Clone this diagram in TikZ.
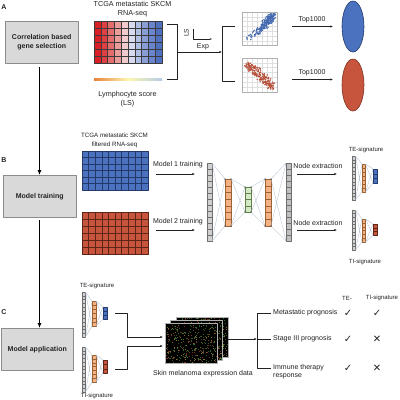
\documentclass[tikz,border=0pt]{standalone}
\usepackage{fontspec}
\setmainfont{Liberation Sans}
\newfontfamily\symfont{DejaVu Sans}
\usetikzlibrary{arrows.meta,shapes.geometric}
\definecolor{ink}{HTML}{222222}
\definecolor{boxfill}{HTML}{D9D9D9}
\definecolor{boxdraw}{HTML}{8C8C8C}
\definecolor{bluec}{HTML}{4A72BF}
\definecolor{bluedk}{HTML}{22396A}
\definecolor{redc}{HTML}{C7553D}
\definecolor{reddk}{HTML}{5E2416}
\definecolor{orangec}{HTML}{F4B183}
\definecolor{orangedk}{HTML}{9A6233}
\definecolor{greenc}{HTML}{D6E9C6}
\definecolor{greendk}{HTML}{60804A}
\definecolor{grayc}{HTML}{D0D0D0}
\definecolor{graydk}{HTML}{6E6E6E}
\definecolor{fanc}{HTML}{AEBBCF}
\definecolor{heatline}{HTML}{3A3A3A}
\definecolor{scgrid}{HTML}{E0E0E0}
\definecolor{scframe}{HTML}{B0B0B0}
\definecolor{h1}{HTML}{DA2025}
\definecolor{h2}{HTML}{DE4044}
\definecolor{h3}{HTML}{E36C6C}
\definecolor{h4}{HTML}{EA9C9B}
\definecolor{h5}{HTML}{F1CBCB}
\definecolor{h6}{HTML}{D8DBEE}
\definecolor{h7}{HTML}{B1BEE3}
\definecolor{h8}{HTML}{8A9ED6}
\definecolor{h9}{HTML}{6A85CB}
\definecolor{h10}{HTML}{4F70C0}
\definecolor{cbA}{HTML}{A50F15}
\definecolor{cbB}{HTML}{E8833A}
\definecolor{cbC}{HTML}{FDF5B0}
\definecolor{cbD}{HTML}{B5CDE6}
\definecolor{cbE}{HTML}{4A6FB5}
\definecolor{mel1}{HTML}{2E6A2E}
\definecolor{mel2}{HTML}{7A3020}
\definecolor{mel3}{HTML}{7D7028}
\definecolor{mel4}{HTML}{3D5222}
\pgfdeclarehorizontalshading{lscale}{100bp}{color(0bp)=(cbA); color(25bp)=(cbB); color(50bp)=(cbC); color(75bp)=(cbD); color(100bp)=(cbE)}
\newcommand{\cellcol}[8]{%
  \node[draw=#8, fill=#7, line width=0.35pt, inner sep=0pt, outer sep=0pt,
        minimum width=#4pt, minimum height=#5pt, anchor=north west] (#1) at (#2,#3) {};
  \pgfmathtruncatemacro\cellm{#6-1}
  \foreach \k in {1,...,\cellm} \draw[#8, line width=0.3pt] (#2,{#3+\k*#5/#6}) -- ({#2+#4},{#3+\k*#5/#6});
}
\newcommand{\fanlink}[2]{\draw[fan] (#1.north east) -- (#2.north west) (#1.north east) -- (#2.south west) (#1.south east) -- (#2.north west) (#1.south east) -- (#2.south west);}
\begin{document}
\begin{tikzpicture}[x=1pt,y=-1pt, line join=round,
  lab/.style={font=\fontsize{7}{8}\selectfont, text=ink, inner sep=0pt, align=center},
  smalllab/.style={font=\fontsize{6}{7}\selectfont, text=ink, inner sep=0pt, align=center},
  boxlab/.style={draw=boxdraw, fill=boxfill, line width=0.5pt, font=\fontsize{7}{8.5}\selectfont\bfseries, text=ink, align=center, inner sep=0pt, anchor=north west},
  letter/.style={font=\fontsize{7}{8}\selectfont\bfseries, text=ink, inner sep=0pt},
  arr/.style={draw=ink, line width=0.55pt, -{Latex[length=2.6pt,width=2.2pt]}},
  bigarr/.style={draw=black, line width=0.8pt, -{Latex[length=5pt,width=4pt]}},
  brk/.style={draw=ink, line width=0.55pt},
  fan/.style={draw=fanc, line width=0.3pt},
  chk/.style={font=\symfont\fontsize{10}{10}\selectfont, text=ink, inner sep=0pt},
]
\useasboundingbox (0,0) rectangle (400,400);
\fill[white] (0,0) rectangle (400,400);

% ---------------- Panel A ----------------
\node[letter] (lA) at (4,7) {A};
\node[boxlab, minimum width=73pt, minimum height=42pt] (boxA) at (5,21) {Correlation based\\gene selection};
\node[lab, font=\fontsize{7.2}{9}\selectfont] (tA) at (132.5,9.5) {TCGA metastatic SKCM\\RNA-seq};
\foreach \c [count=\i from 0] in {h1,h2,h3,h4,h5,h6,h7,h8,h9,h10}
  \fill[\c] ({94+\i*6.8},21) rectangle ({94+(\i+1)*6.8},63);
\foreach \i in {1,...,9} \draw[heatline, line width=0.4pt] ({94+\i*6.8},21) -- ({94+\i*6.8},63);
\foreach \j in {1,...,5} \draw[heatline, line width=0.4pt] (94,{21+\j*7}) -- (162,{21+\j*7});
\node[draw=heatline, line width=0.4pt, inner sep=0pt, outer sep=0pt, minimum width=68pt, minimum height=42pt, anchor=north west] (heatA) at (94,21) {};
\shade[shading=lscale] (94,78) rectangle (162,80.5);
\node[lab, font=\fontsize{7.2}{9}\selectfont] (lsA) at (127.5,99.5) {Lymphocyte score\\(LS)};

% bracket 1 and arrow
\coordinate (b1t) at (167,24);
\coordinate (b1b) at (167,79.5);
\coordinate (b1m) at (177,52);
\coordinate (b2m) at (222,52);
\draw[brk] (b1t) -- (177,24) -- (177,79.5) -- (b1b);
\draw[arr] (b1m) -- (b2m);
\draw[brk] (235,26) -- (222,26) -- (222,81) -- (235,81);
\node[font=\fontsize{6.5}{7}\selectfont, text=ink, inner sep=0pt, rotate=90] (lsax) at (186.5,33) {LS};
\coordinate (axo) at (193,39);
\draw[brk, line width=0.45pt, -{Latex[length=1.8pt,width=1.6pt]}] (193,28.5) -- (axo) -- (212,39);
\node[lab] (expl) at (203,46.5) {Exp};

% scatter plots
\foreach \yy in {12,58} {
  \foreach \g in {1,...,6} \draw[scgrid, line width=0.3pt] ({242+\g*5},\yy) -- ({242+\g*5},{\yy+33.5});
  \foreach \g in {1,...,6} \draw[scgrid, line width=0.3pt] (242,{\yy+\g*4.8}) -- (277,{\yy+\g*4.8});
}
\node[draw=scframe, line width=0.5pt, inner sep=0pt, minimum width=35pt, minimum height=33pt, anchor=north west] (scB) at (242,12) {};
\node[draw=scframe, line width=0.5pt, inner sep=0pt, minimum width=35pt, minimum height=34pt, anchor=north west] (scR) at (242,58) {};
\pgfmathsetseed{3}
\foreach \i in {1,...,220}{
  \pgfmathsetmacro\sv{sqrt(rnd)}
  \pgfmathsetmacro\na{rand}
  \pgfmathsetmacro\nb{rand}
  \pgfmathsetmacro\spx{max(244,min(275.5,245+29*\sv+2.5*\na))}
  \pgfmathsetmacro\spy{max(14,min(43,41-20*\sv-6*\sv*\sv+(2+3*\sv)*\nb))}
  \fill[bluec!92!black] (\spx,\spy) circle[radius=0.8pt];
}
\foreach \i in {1,...,200}{
  \pgfmathsetmacro\su{0.9*rand}
  \pgfmathsetmacro\na{rand}
  \pgfmathsetmacro\nb{rand}
  \pgfmathsetmacro\spx{max(244,min(275.5,259.5+15*\su+3*\na))}
  \pgfmathsetmacro\spy{max(60,min(90,75+13*\su+4.5*\nb))}
  \fill[redc!92!black] (\spx,\spy) circle[radius=0.8pt];
}
% Top1000 arrows and ellipses
\node[ellipse, draw=bluedk, fill=bluec, line width=0.6pt, inner sep=0pt, minimum width=22pt, minimum height=51pt] (ellB) at (353,26.5) {};
\node[ellipse, draw=reddk!70!redc, fill=redc, line width=0.6pt, inner sep=0pt, minimum width=22pt, minimum height=52pt] (ellR) at (353,85) {};
\coordinate (t1s) at (292,26.5);
\coordinate (t1e) at (333,26.5);
\coordinate (t2s) at (292,79.5);
\coordinate (t2e) at (333,79.5);
\draw[arr] (t1s) -- (t1e);
\draw[arr] (t2s) -- (t2e);
\node[lab] (top1) at (312,19.5) {Top1000};
\node[lab] (top2) at (312,72.5) {Top1000};

% vertical arrows between boxes
\node[boxlab, minimum width=73pt, minimum height=42pt] (boxB) at (3,175) {Model training};
\node[boxlab, minimum width=72pt, minimum height=42pt] (boxC) at (1,328) {Model application};
\coordinate (vA) at (39.5,67);
\coordinate (vB) at (39.5,220);
\draw[bigarr] (vA) -- (vA |- boxB.north);
\draw[bigarr] (vB) -- (vB |- boxC.north);

% ---------------- Panel B ----------------
\node[letter] (lB) at (4,160) {B};
\node[lab, font=\fontsize{6.2}{8.5}\selectfont] (tB) at (114.5,140.5) {TCGA metastatic SKCM\\filtered RNA-seq};
\fill[bluec] (82,151) rectangle (148,190);
\foreach \i in {1,...,9} \draw[bluedk, line width=0.4pt] ({82+\i*6.6},151) -- ({82+\i*6.6},190);
\foreach \j in {1,...,5} \draw[bluedk, line width=0.4pt] (82,{151+\j*6.5}) -- (148,{151+\j*6.5});
\node[draw=bluedk, line width=0.4pt, inner sep=0pt, minimum width=66pt, minimum height=39pt, anchor=north west] (gridB) at (82,151) {};
\fill[redc] (82,212) rectangle (148,254);
\foreach \i in {1,...,9} \draw[reddk, line width=0.4pt] ({82+\i*6.6},212) -- ({82+\i*6.6},254);
\foreach \j in {1,...,5} \draw[reddk, line width=0.4pt] (82,{212+\j*7}) -- (148,{212+\j*7});
\node[draw=reddk, line width=0.4pt, inner sep=0pt, minimum width=66pt, minimum height=42pt, anchor=north west] (gridR) at (82,212) {};

\node[lab] (m1) at (178,164.5) {Model 1 training};
\node[lab] (m2) at (178,221.5) {Model 2 training};
\coordinate (m1s) at (156,174);
\coordinate (m1e) at (195,174);
\coordinate (m2s) at (156,230);
\coordinate (m2e) at (195,230);
\draw[arr] (m1s) -- (m1e);
\draw[arr] (m2s) -- (m2e);

% autoencoder
\cellcol{nin}{207}{163}{5}{78}{13}{grayc}{graydk}
\cellcol{no1}{225}{179}{6}{47}{7}{orangec}{orangedk}
\cellcol{ngr}{245}{187}{6}{25}{4}{greenc}{greendk}
\cellcol{no2}{265}{179}{6}{47}{7}{orangec}{orangedk}
\cellcol{nout}{286}{163}{5}{78}{13}{grayc!80!gray}{graydk}
\fanlink{nin}{no1}
\fanlink{no1}{ngr}
\fanlink{ngr}{no2}
\fanlink{no2}{nout}
\foreach \n in {no1,ngr,no2}
  \foreach \a in {north west,north east,south west,south east}
    \fill[ink] (\n.\a) circle[radius=0.55pt];

\node[lab] (ne1) at (318,166) {Node extraction};
\node[lab] (ne2) at (318,222.5) {Node extraction};
\coordinate (n1s) at (297,174);
\coordinate (n1e) at (337,174);
\coordinate (n2s) at (297,230);
\coordinate (n2e) at (337,230);
\draw[arr] (n1s) -- (n1e);
\draw[arr] (n2s) -- (n2e);

\node[smalllab] (teB) at (366,150) {TE-signature};
\cellcol{s1g}{352}{156}{3.5}{44}{12}{grayc}{graydk}
\cellcol{s1o}{362}{164}{3.5}{28}{7}{orangec}{orangedk}
\cellcol{s1b}{373}{169}{4}{14}{3}{bluec}{bluedk}
\fanlink{s1g}{s1o}
\fanlink{s1o}{s1b}
\cellcol{s2g}{352}{210}{3.5}{40}{11}{grayc}{graydk}
\cellcol{s2o}{362}{219}{3.5}{23}{6}{orangec}{orangedk}
\cellcol{s2r}{373}{224}{4}{11}{3}{redc}{reddk}
\fanlink{s2g}{s2o}
\fanlink{s2o}{s2r}
\node[smalllab] (tiB) at (365,262) {TI-signature};

% ---------------- Panel C ----------------
\node[letter] (lC) at (4,312) {C};
\node[smalllab] (teC) at (97,286) {TE-signature};
\cellcol{c1g}{82}{292}{3.5}{45}{12}{grayc}{graydk}
\cellcol{c1o}{92}{301}{4}{25}{6}{orangec}{orangedk}
\cellcol{c1b}{103}{307}{4}{12}{3}{bluec}{bluedk}
\fanlink{c1g}{c1o}
\fanlink{c1o}{c1b}
\cellcol{c2g}{82}{347}{3.5}{45}{12}{grayc}{graydk}
\cellcol{c2o}{92}{355}{4}{27}{7}{orangec}{orangedk}
\cellcol{c2r}{103}{360}{4}{13}{3}{redc}{reddk}
\fanlink{c2g}{c2o}
\fanlink{c2o}{c2r}
\node[smalllab] (tiC) at (97,396) {TI-signature};

% melanoma expression stack
\pgfmathsetseed{11}
\foreach \mx/\my in {176/317, 170.5/320, 165/323.5}{
  \fill[black] (\mx,\my) rectangle ++(52,40);
  \draw[gray!60, line width=0.3pt] (\mx,\my) rectangle ++(52,40);
  \foreach \i in {1,...,330}{
    \pgfmathsetmacro\dx{\mx+1+50*rnd}
    \pgfmathsetmacro\dy{\my+1+38*rnd}
    \pgfmathrandominteger{\dc}{1}{4}
    \fill[mel\dc] (\dx,\dy) rectangle ++(0.7,0.7);
  }
}
\node[inner sep=0pt, outer sep=0pt, minimum width=52pt, minimum height=40pt, anchor=north west] (melF) at (165,323.5) {};
\node[inner sep=0pt, outer sep=0pt, minimum width=52pt, minimum height=40pt, anchor=north west] (melK) at (176,317) {};
\node[lab] (melT) at (203,373.5) {Skin melanoma expression data};

\coordinate (e1s) at (115,313);
\coordinate (e1e) at (163,337);
\coordinate (e2s) at (115,369);
\coordinate (e2e) at (163,346);
\draw[arr] (e1s) -- (127,313) -- (127,337) -- (e1e);
\draw[arr] (e2s) -- (127,369) -- (127,346) -- (e2e);

\coordinate (r0) at (228,339);
\coordinate (r1) at (257,339);
\draw[brk] (271,313) -- (257,313) -- (257,368) -- (271,368);
\draw[brk] (r1) -- (271,339);
\draw[arr] (r0) -- (r1);

\node[lab, anchor=west] (o1) at (273,313) {Metastatic prognosis};
\node[lab, anchor=west] (o2) at (273,339) {Stage III prognosis};
\node[lab, anchor=west, align=left] (o3) at (273,372) {Immune therapy\\response};
\node[smalllab] (hTE) at (347,298) {TE-};
\node[smalllab] (hTI) at (382,298) {TI-signature};
\node[chk] (k11) at (348,313.5) {✓};
\node[chk] (k12) at (348,339.5) {✓};
\node[chk] (k13) at (348,368.5) {✓};
\node[chk] (k21) at (377,313.5) {✓};
\node[chk] (k22) at (377,339.5) {✕};
\node[chk] (k23) at (377,368.5) {✕};
\end{tikzpicture}
\end{document}
